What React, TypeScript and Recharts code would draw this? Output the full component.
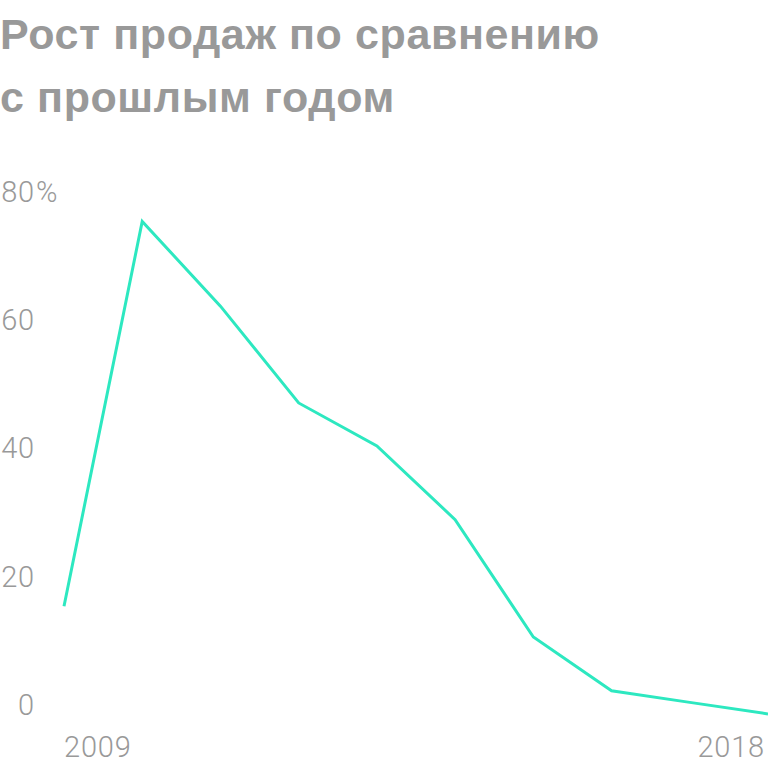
import React from "react";
import { LineChart, Line, XAxis, YAxis } from "recharts";

const years = ["2009", "2010", "2011", "2012", "2013", "2014", "2015", "2016", "2017", "2018"];
const growth = [15.4, 75.4, 62.2, 47.1, 40.4, 28.9, 10.6, 2.2, 0.4, -1.4];
const yTicks = [0, 20, 40, 60, 80];
const shownYears = ["2009", "2018"];

const data = years.map((year, i) => ({ year, growth: growth[i] }));

const GREY = "#999999";
const TICK_FONT = "Roboto, 'Noto Sans', sans-serif";
const TITLE_FONT = "'Liberation Sans', Arial, sans-serif";

function YTick(props: any) {
  const { x, y, payload } = props;
  const v = payload.value;
  const common = {
    y,
    dy: 10,
    fill: GREY,
    fontSize: 29,
    fontWeight: 300,
    fontFamily: TICK_FONT,
    letterSpacing: 0.8,
  };
  return (
    <g>
      <text x={x - 29} textAnchor="end" {...common}>
        {v}
      </text>
      {v === 80 ? (
        <text x={x - 28} textAnchor="start" {...common}>
          %
        </text>
      ) : null}
    </g>
  );
}

function XTick(props: any) {
  const { x, y, payload, index } = props;
  if (!shownYears.includes(payload.value)) return null;
  const first = index === 0;
  return (
    <text
      x={first ? x : x - 3}
      y={y}
      dy={20}
      textAnchor={first ? "start" : "end"}
      fill={GREY}
      fontSize={29}
      fontWeight={300}
      fontFamily={TICK_FONT}
      letterSpacing={0.8}
    >
      {payload.value}
    </text>
  );
}

export default function App() {
  return (
    <div
      style={{
        position: "absolute",
        left: 0,
        top: 0,
        width: 768,
        height: 768,
        background: "#fff",
        overflow: "hidden",
      }}
    >
      <div
        style={{
          position: "absolute",
          left: 0,
          top: 3,
          fontFamily: TITLE_FONT,
          fontWeight: 700,
          fontSize: 43,
          letterSpacing: 0.6,
          color: GREY,
          lineHeight: "63px",
          whiteSpace: "nowrap",
        }}
      >
        <div>Рост продаж по сравнению</div>
        <div>с прошлым годом</div>
      </div>

      <div style={{ position: "absolute", left: 0, top: 0 }}>
        <LineChart
          width={768}
          height={768}
          data={data}
          margin={{ top: 192, right: 0, left: 0, bottom: 0 }}
        >
          <XAxis
            dataKey="year"
            height={31}
            axisLine={false}
            tickLine={false}
            tickSize={0}
            tickMargin={0}
            interval={0}
            tick={<XTick />}
          />
          <YAxis
            width={64}
            domain={[-5, 80]}
            ticks={yTicks}
            axisLine={false}
            tickLine={false}
            tickSize={0}
            tickMargin={0}
            tick={<YTick />}
          />
          <Line
            type="linear"
            dataKey="growth"
            stroke="#2de8c0"
            strokeWidth={3}
            dot={false}
            activeDot={false}
            isAnimationActive={false}
          />
        </LineChart>
      </div>
    </div>
  );
}
